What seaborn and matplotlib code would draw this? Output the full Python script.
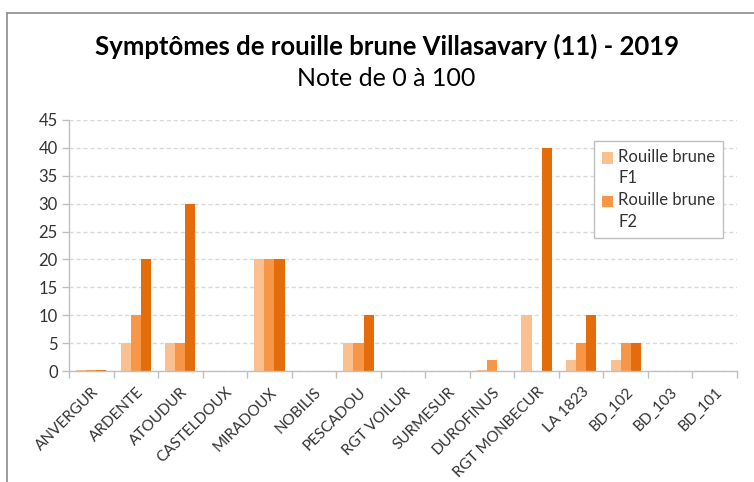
import numpy as np
import pandas as pd
import matplotlib
matplotlib.use("Agg")
import matplotlib.pyplot as plt
from matplotlib.lines import Line2D
from matplotlib.patches import Patch, Rectangle
from matplotlib.legend_handler import HandlerPatch
from matplotlib.transforms import ScaledTranslation
import seaborn as sns

categories = ["ANVERGUR", "ARDENTE", "ATOUDUR", "CASTELDOUX", "MIRADOUX", "NOBILIS",
              "PESCADOU", "RGT VOILUR", "SURMESUR", "DUROFINUS", "RGT MONBECUR",
              "LA 1823", "BD_102", "BD_103", "BD_101"]
f1 = [0.25, 5, 5, 0, 20, 0, 5, 0, 0, 0.2, 10, 2, 2, 0, 0]
f2 = [0.25, 10, 5, 0, 20, 0, 5, 0, 0, 2, 0, 5, 5, 0, 0]
f3 = [0.25, 20, 30, 0, 20, 0, 10, 0, 0, 0, 40, 10, 5, 0, 0]
series_names = ["Rouille brune F1", "Rouille brune F2", "Rouille brune F3"]
colors = ["#FAC090", "#F79646", "#E46C0A"]
yticks = [0, 5, 10, 15, 20, 25, 30, 35, 40, 45]
title = "Symptômes de rouille brune Villasavary (11) - 2019"
subtitle = "Note de 0 à 100"
legend_labels = ["Rouille brune\nF1", "Rouille brune\nF2"]

df = pd.DataFrame({
    "variete": categories * 3,
    "note": f1 + f2 + f3,
    "serie": sum([[s] * len(categories) for s in series_names], []),
})

sns.set_theme(style="white")
plt.rcParams["font.family"] = ["Lato", "DejaVu Sans"]

W, H = 754, 482
fig = plt.figure(figsize=(W / 100, H / 100), dpi=100)
ax = fig.add_axes([69 / W, 1 - 371 / H, (737 - 69) / W, (371 - 120) / H])

sns.barplot(data=df, x="variete", y="note", hue="serie", order=categories,
            hue_order=series_names, palette=colors, width=0.68, gap=0,
            saturation=1, linewidth=0, ax=ax, legend=False, errorbar=None)

ax.set_xlim(-0.5, len(categories) - 0.5)
ax.set_ylim(0, 45)
ax.set_yticks(yticks)
ax.set_yticklabels([str(v) for v in yticks], fontsize=12, color="#333333")
ax.set_xlabel("")
ax.set_ylabel("")

ax.yaxis.grid(True, linestyle=(0, (3, 2)), color="#D9D9D9", linewidth=1)
ax.set_axisbelow(True)

for s in ["top", "right"]:
    ax.spines[s].set_visible(False)
for s in ["left", "bottom"]:
    ax.spines[s].set_color("#BFBFBF")
    ax.spines[s].set_linewidth(1)

ax.tick_params(axis="y", which="major", length=5, color="#BFBFBF", width=1,
               direction="out", left=True, pad=3)
ax.set_xticks(np.arange(len(categories)))
ax.set_xticklabels(categories, rotation=45, ha="right", va="top",
                   rotation_mode="anchor", fontsize=11, color="#333333")
ax.tick_params(axis="x", which="major", length=0, pad=10)
ax.set_xticks(np.arange(-0.5, len(categories), 1), minor=True)
ax.tick_params(axis="x", which="minor", length=5, color="#BFBFBF", width=1,
               direction="out", bottom=True)
shift = ScaledTranslation(0.5 / 100, 0, fig.dpi_scale_trans)
for lbl in ax.get_xticklabels():
    lbl.set_transform(lbl.get_transform() + shift)

fig.text(387 / W, 1 - 46 / H, title, ha="center", va="center",
         fontsize=18.5, fontweight="bold", color="#000000")
fig.text(386 / W, 1 - 79 / H, subtitle, ha="center", va="center",
         fontsize=18, color="#000000")


def top_square(legend, orig_handle, xdescent, ydescent, width, height, fontsize):
    return Rectangle((-xdescent, -ydescent + 0.62 * fontsize), width, height)


handles = [Patch(facecolor=colors[0], edgecolor="none"),
           Patch(facecolor=colors[1], edgecolor="none")]
leg = fig.legend(handles, legend_labels, loc="upper left",
                 bbox_to_anchor=(594 / W, 1 - 141 / H), fontsize=12,
                 frameon=True, fancybox=False, edgecolor="#BFBFBF",
                 handlelength=0.7, handleheight=0.7, handletextpad=0.3,
                 labelspacing=0.35, borderpad=0.45, borderaxespad=0, framealpha=1,
                 handler_map={Patch: HandlerPatch(patch_func=top_square)})
leg.get_frame().set_linewidth(1)
for t in leg.get_texts():
    t.set_color("#333333")
    t.set_linespacing(1.45)

# outer chart frame
fig.add_artist(Line2D([7 / W, 1.0], [1 - 13 / H, 1 - 13 / H], transform=fig.transFigure,
                      color="#8C8C8C", linewidth=1.2))
fig.add_artist(Line2D([7 / W, 7 / W], [1 - 13 / H, 0.0], transform=fig.transFigure,
                      color="#8C8C8C", linewidth=1.2))

fig.savefig("out.png", dpi=100, facecolor="white")
